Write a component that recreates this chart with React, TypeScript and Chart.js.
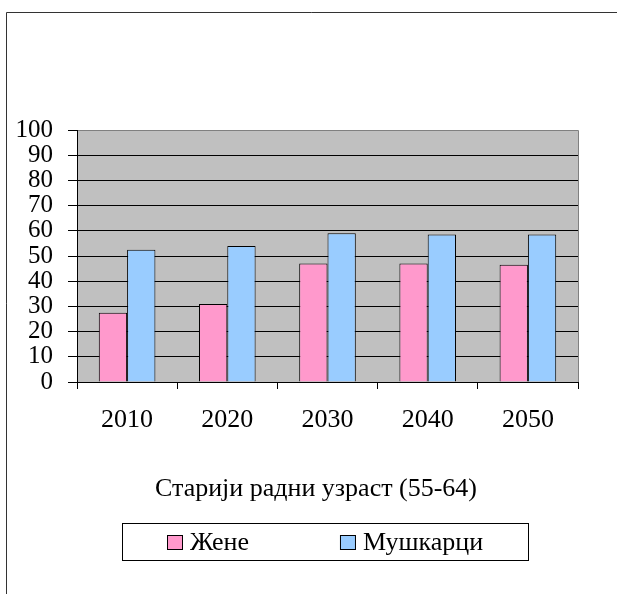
import React, { useEffect, useRef } from 'react';
import { Chart, registerables } from 'chart.js';

Chart.register(...registerables);

const categories = ['2010', '2020', '2030', '2040', '2050'];
const women = [27.5, 31, 47, 47, 46.5];
const men = [52.5, 54, 59, 58.5, 58.5];
const seriesLabels = ['Жене', 'Мушкарци'];
const seriesColors = ['#FF99CC', '#99CCFF'];
const yTicks = [0, 10, 20, 30, 40, 50, 60, 70, 80, 90, 100];
const axisTitle = 'Старији радни узраст (55-64)';

const FONT = "'Liberation Serif', 'Times New Roman', serif";

const decor = {
  id: 'decor',
  afterLayout(chart: any) {
    const t = chart.titleBlock;
    if (t) {
      t.left = 54;
      t.right = chart.chartArea.right;
    }
  },
  beforeDraw(chart: any) {
    const { ctx, chartArea: a } = chart;
    ctx.save();
    ctx.fillStyle = '#ffffff';
    ctx.fillRect(0, 0, chart.width, chart.height);
    ctx.fillStyle = '#C0C0C0';
    ctx.fillRect(a.left, a.top, a.right - a.left, a.bottom - a.top);
    ctx.strokeStyle = '#333333';
    ctx.lineWidth = 1;
    ctx.beginPath();
    ctx.moveTo(6.5, chart.height);
    ctx.lineTo(6.5, 12.5);
    ctx.lineTo(chart.width, 12.5);
    ctx.stroke();
    ctx.restore();
  },
  beforeDatasetsDraw(chart: any) {
    const { ctx, chartArea: a } = chart;
    ctx.save();
    ctx.strokeStyle = '#808080';
    ctx.lineWidth = 1;
    ctx.beginPath();
    ctx.moveTo(a.left + 1, a.top + 0.5);
    ctx.lineTo(a.right + 0.5, a.top + 0.5);
    ctx.lineTo(a.right + 0.5, a.bottom);
    ctx.stroke();
    ctx.restore();
  },
  afterDraw(chart: any) {
    const { ctx } = chart;
    const boxLeft = 122;
    const boxTop = 523;
    const boxW = 406;
    const boxH = 37;
    ctx.save();
    ctx.strokeStyle = '#000000';
    ctx.lineWidth = 1;
    ctx.strokeRect(boxLeft + 0.5, boxTop + 0.5, boxW, boxH);
    ctx.font = `26px ${FONT}`;
    ctx.textBaseline = 'alphabetic';
    ctx.textAlign = 'left';
    let x = boxLeft + 45;
    chart.data.datasets.forEach((ds: any) => {
      ctx.fillStyle = ds.backgroundColor;
      ctx.fillRect(x, 535, 16, 15);
      ctx.strokeStyle = '#000000';
      ctx.strokeRect(x + 0.5, 535.5, 15, 14);
      ctx.fillStyle = '#000000';
      ctx.fillText(ds.label, x + 23, 550);
      x += 23 + ctx.measureText(ds.label).width + 91;
    });
    ctx.restore();
  },
};

export default function App() {
  const ref = useRef<HTMLCanvasElement>(null);
  useEffect(() => {
    const chart = new Chart(ref.current as HTMLCanvasElement, {
      type: 'bar',
      data: {
        labels: categories,
        datasets: [
          {
            label: seriesLabels[0],
            data: women,
            backgroundColor: seriesColors[0],
            borderColor: '#000000',
            borderWidth: 1,
          },
          {
            label: seriesLabels[1],
            data: men,
            backgroundColor: seriesColors[1],
            borderColor: '#000000',
            borderWidth: 1,
          },
        ],
      },
      options: {
        responsive: false,
        animation: false,
        events: [],
        layout: { padding: { left: 0, right: 39, top: 130, bottom: 88.8 } },
        datasets: {
          bar: { categoryPercentage: 0.565, barPercentage: 1.0 },
        } as any,
        plugins: {
          legend: { display: false },
          tooltip: { enabled: false },
          title: {
            display: true,
            text: axisTitle,
            position: 'bottom',
            fullSize: true,
            color: '#000000',
            padding: { top: 0, bottom: 0 },
            font: { family: FONT, size: 26, weight: 'normal', lineHeight: 1.2 },
          },
        },
        scales: {
          x: {
            type: 'category',
            offset: true,
            grid: {
              display: true,
              offset: true,
              drawOnChartArea: false,
              drawTicks: true,
              tickLength: 7,
              color: '#000000',
              tickColor: '#000000',
            },
            border: { display: true, color: '#000000', width: 1 },
            ticks: {
              color: '#000000',
              padding: 16,
              maxRotation: 0,
              autoSkip: false,
              font: { family: FONT, size: 26, lineHeight: 1.2 },
            },
            afterFit: (s: any) => {
              s.height = 92;
            },
          },
          y: {
            type: 'linear',
            min: 0,
            max: 100,
            grid: {
              color: (c: any) => (c.tick && c.tick.value === 100 ? '#808080' : '#000000'),
              tickColor: '#000000',
              tickLength: 9,
              lineWidth: 1,
            },
            border: { display: true, color: '#000000', width: 1 },
            ticks: {
              color: '#000000',
              padding: 15,
              autoSkip: false,
              stepSize: 10,
              font: { family: FONT, size: 25, lineHeight: 1 },
            },
            afterBuildTicks: (s: any) => {
              s.ticks = yTicks.map((v) => ({ value: v }));
            },
            afterFit: (s: any) => {
              s.width = 77;
            },
          },
        },
      },
      plugins: [decor],
    });
    return () => chart.destroy();
  }, []);
  return (
    <div style={{ position: 'fixed', left: 0, top: 0, width: 617, height: 594, background: '#ffffff' }}>
      <canvas ref={ref} width={617} height={594} style={{ display: 'block', width: 617, height: 594 }} />
    </div>
  );
}
